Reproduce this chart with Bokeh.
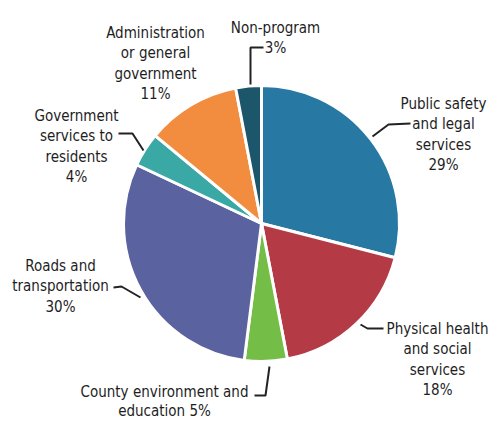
import math
from bokeh.plotting import figure
from bokeh.models import ColumnDataSource, Range1d
from bokeh.core.properties import value
from bokeh.embed import file_html
from bokeh.resources import INLINE

# ---- data ----
categories = [
    "Public safety and legal services",
    "Physical health and social services",
    "County environment and education",
    "Roads and transportation",
    "Government services to residents",
    "Administration or general government",
    "Non-program",
]
shares = [29, 18, 5, 30, 4, 11, 3]
colors = ["#2878a4", "#b43b46", "#74bd46", "#5b62a0", "#3aa8a5", "#f28c3e", "#1b566a"]
label_lines = [
    ["Public safety", "and legal", "services"],
    ["Physical health", "and social", "services"],
    ["County environment and", "education"],
    ["Roads and", "transportation"],
    ["Government", "services to", "residents"],
    ["Administration", "or general", "government"],
    ["Non-program"],
]
pct_inline = [False, False, True, False, False, False, False]

# ---- layout (screen px, y down) ----
W, H = 494, 423
CX, CY, R = 261, 223, 138
label_pos = [  # (center x, first baseline y)
    (443, 103),
    (437, 328),
    (164, 391),
    (60, 265),
    (76, 115),
    (155, 32),
    (275, 27),
]
LH = 20.5
LH_COUNTY = 19
leaders = [
    [(372, 136), (388, 124), (410, 123)],
    [(360, 324), (367, 328), (383, 328)],
    [(269, 366), (265, 395), (254, 395)],
    [(113, 287), (121, 286), (140, 297)],
    [(118, 133), (132, 133), (143, 150)],
    [],
    [(263, 47), (250, 47), (250, 84)],
]

FONT = "'DejaVu Sans Condensed', Roboto, sans-serif"
FS = "15px"
TXT = "#1e1e1e"

def fy(y):
    return H - y

p = figure(width=W, height=H, x_range=Range1d(0, W), y_range=Range1d(0, H),
           output_backend="svg", toolbar_location=None, min_border=0)
p.axis.visible = False
p.grid.visible = False
p.outline_line_color = None
p.background_fill_color = "white"
p.border_fill_color = "white"

total = float(sum(shares))
starts, ends = [], []
c = 0.0
for s in shares:
    c0 = c
    c += s / total
    starts.append(math.pi / 2 - 2 * math.pi * c)
    ends.append(math.pi / 2 - 2 * math.pi * c0)

src = ColumnDataSource(dict(cat=categories, share=shares, color=colors,
                            start=starts, end=ends))
p.wedge(x=CX, y=fy(CY), radius=R, radius_units="screen",
        start_angle="start", end_angle="end", fill_color="color",
        line_color="white", line_width=3, source=src)

# labels
tx, ty, tt = [], [], []
for i, lines in enumerate(label_lines):
    lines = list(lines)
    if pct_inline[i]:
        lines[-1] = f"{lines[-1]} {shares[i]}%"
    else:
        lines.append(f"{shares[i]}%")
    x0, y0 = label_pos[i]
    lh = LH_COUNTY if pct_inline[i] else LH
    for j, t in enumerate(lines):
        tx.append(x0)
        ty.append(fy(y0 + j * lh))
        tt.append(t)
p.text(x=tx, y=ty, text=tt, text_align="center", text_baseline="alphabetic",
       text_font=value(FONT), text_font_size=FS, text_color=TXT)

for pts in leaders:
    if pts:
        p.line([q[0] for q in pts], [fy(q[1]) for q in pts],
               line_color="#222222", line_width=2)

open("out.html", "w").write(file_html(p, INLINE))
